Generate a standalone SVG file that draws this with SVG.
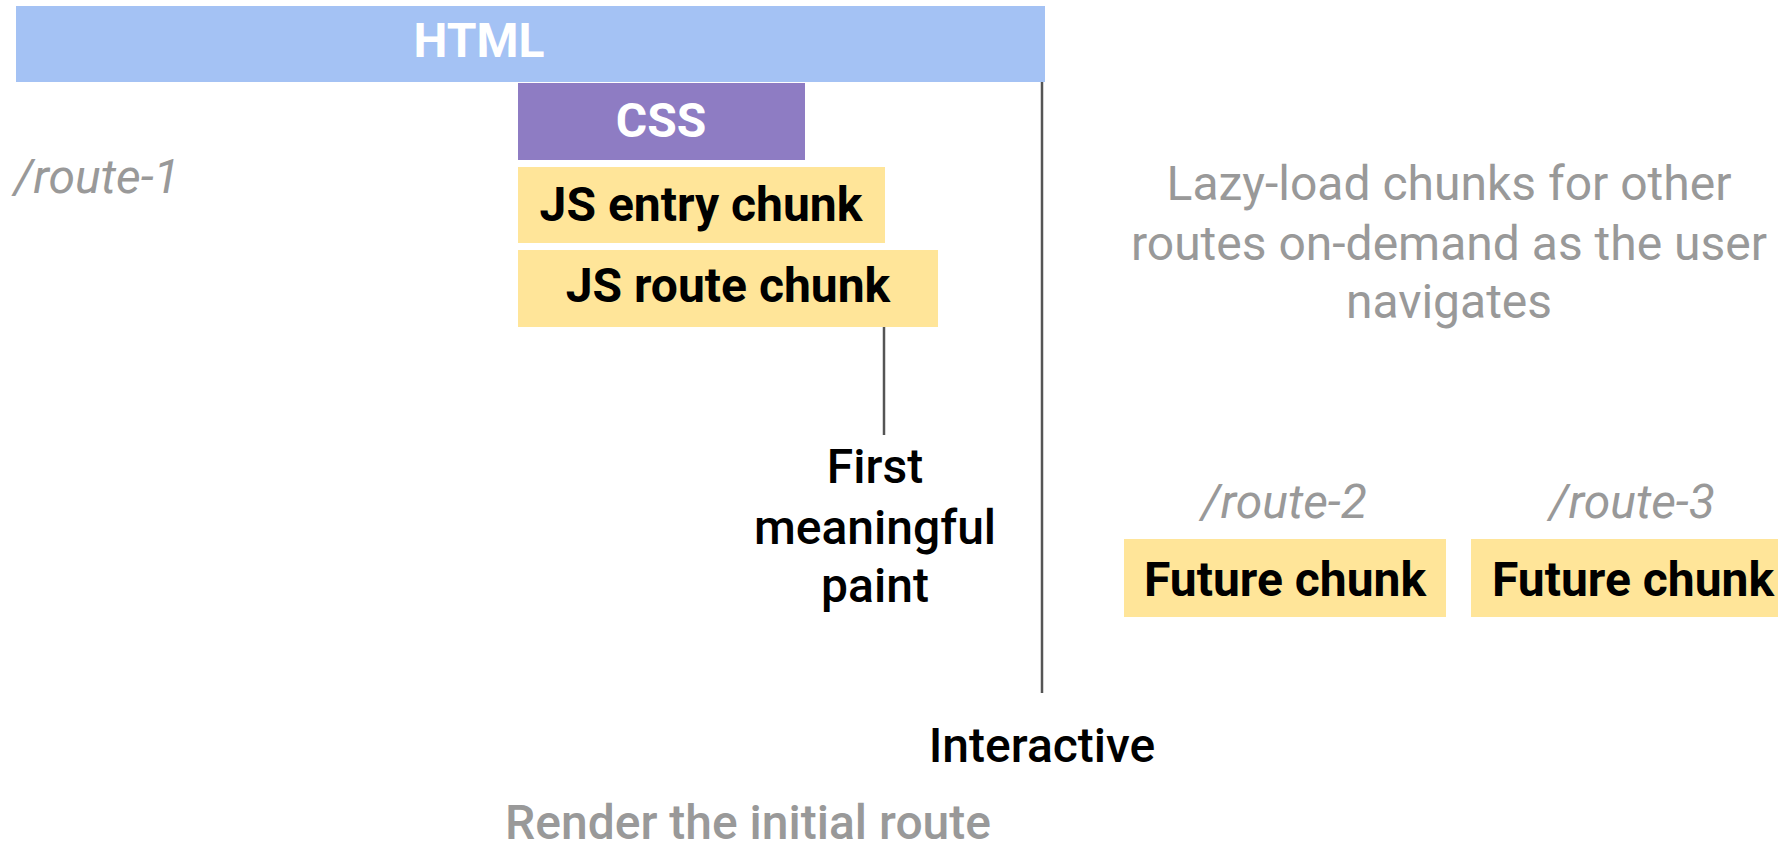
<svg xmlns="http://www.w3.org/2000/svg" width="1778" height="852" viewBox="0 0 1778 852">
<style>
text{font-family:Roboto,"Liberation Sans",sans-serif;font-size:48px;text-anchor:middle}
.lbl{font-weight:700}
.w{fill:#ffffff}
.k{fill:#000000}
.m{font-weight:500}
.g{fill:#999999}
.it{font-style:italic;font-weight:400;fill:#999999}
.yel{fill:#ffe599}
.ln{stroke:#555555;stroke-width:2.5;fill:none}
</style>
<rect width="1778" height="852" fill="#ffffff"/>
<g id="connectors">
<line class="ln" x1="1042" y1="82" x2="1042" y2="693"/>
<line class="ln" x1="884" y1="327" x2="884" y2="435"/>
</g>
<g id="html">
<rect x="16" y="6" width="1029" height="76" fill="#a4c2f4"/>
<text class="lbl w" x="479" y="57">HTML</text>
</g>
<g id="css">
<rect x="518" y="83" width="287" height="77" fill="#8e7cc3"/>
<text class="lbl w" x="661" y="137">CSS</text>
</g>
<g id="js-entry">
<rect class="yel" x="518" y="167" width="367" height="76"/>
<text class="lbl k" x="701" y="221">JS entry chunk</text>
</g>
<g id="js-route">
<rect class="yel" x="518" y="250" width="420" height="77"/>
<text class="lbl k" x="728" y="302">JS route chunk</text>
</g>
<g id="future-1">
<rect class="yel" x="1124" y="539" width="322" height="78"/>
<text class="lbl k" x="1285" y="596">Future chunk</text>
</g>
<g id="future-2">
<rect class="yel" x="1471" y="539" width="307" height="78"/>
<text class="lbl k" x="1633" y="596">Future chunk</text>
</g>
<g id="route-1"><text class="it" x="14" y="193" style="text-anchor:start">/route-1</text></g>
<g id="route-2"><text class="it" x="1284" y="518">/route-2</text></g>
<g id="route-3"><text class="it" x="1632" y="518">/route-3</text></g>
<g id="lazy-note">
<text class="g" x="1449" y="200">Lazy-load chunks for other</text>
<text class="g" x="1449" y="260">routes on-demand as the user</text>
<text class="g" x="1449" y="318">navigates</text>
</g>
<g id="fmp">
<text class="k m" x="875" y="483">First</text>
<text class="k m" x="875" y="544">meaningful</text>
<text class="k m" x="875" y="602">paint</text>
</g>
<g id="interactive"><text class="k m" x="1042" y="762">Interactive</text></g>
<g id="render-note"><text class="g m" x="748" y="839">Render the initial route</text></g>
</svg>
